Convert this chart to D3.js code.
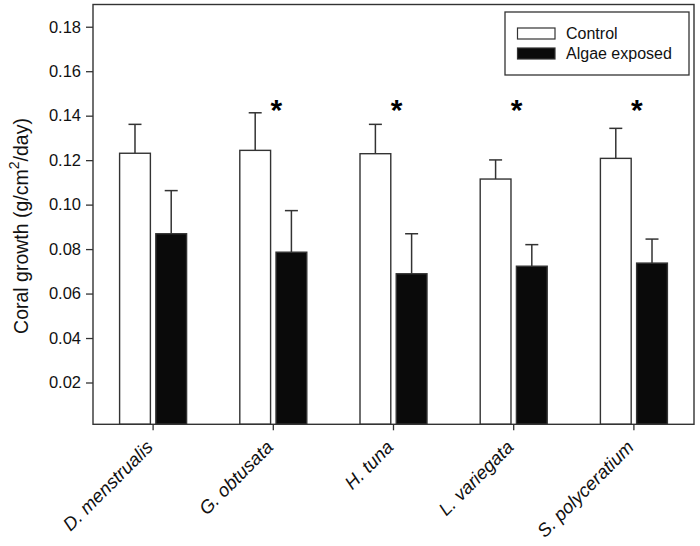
<!DOCTYPE html>
<html>
<head>
<meta charset="utf-8">
<script src="https://cdn.jsdelivr.net/npm/d3@7"></script>
<style>
  html, body { margin: 0; padding: 0; background: #fff; }
  svg { display: block; font-family: "Liberation Sans", Arial, sans-serif; }
</style>
</head>
<body>
<svg id="chart" width="700" height="546"></svg>
<script>
// ---- data ----
const categories = ["D. menstrualis", "G. obtusata", "H. tuna", "L. variegata", "S. polyceratium"];
const seriesNames = ["Control", "Algae exposed"];
const controlMean = [0.1231, 0.1244, 0.1229, 0.1115, 0.1208];
const controlErr  = [0.0130, 0.0169, 0.0132, 0.0086, 0.0135];
const algaeMean   = [0.0869, 0.0786, 0.0689, 0.0723, 0.0737];
const algaeErr    = [0.0194, 0.0187, 0.0180, 0.0097, 0.0108];
const significant = [false, true, true, true, true];
const starLevel = 0.1457;
const yTicks = [0.02, 0.04, 0.06, 0.08, 0.10, 0.12, 0.14, 0.16, 0.18];
const yDomain = [0.0012, 0.19];

// ---- layout ----
const L = 93, R = 694, T = 4.5, B = 424.3;
const stroke = "#333";
const svg = d3.select("#chart");

const x0 = d3.scaleBand().domain(categories).range([L, R]).padding(0);
const x1 = d3.scaleBand().domain(seriesNames).range([-33.5, 33.5]).paddingInner(0.15);
const y = d3.scaleLinear().domain(yDomain).range([B, T]);
const fills = { "Control": "#ffffff", "Algae exposed": "#0a0a0a" };

const rows = [];
categories.forEach((c, i) => {
  rows.push({ cat: c, s: "Control", m: controlMean[i], e: controlErr[i] });
  rows.push({ cat: c, s: "Algae exposed", m: algaeMean[i], e: algaeErr[i] });
});

// error bars (behind bars)
const eb = svg.append("g").attr("stroke", stroke).attr("stroke-width", 1.5);
rows.forEach(d => {
  const cx = x0(d.cat) + x0.bandwidth() / 2 + x1(d.s) + x1.bandwidth() / 2;
  eb.append("line").attr("x1", cx).attr("x2", cx).attr("y1", y(d.m)).attr("y2", y(d.m + d.e));
  eb.append("line").attr("x1", cx - 6.5).attr("x2", cx + 6.5).attr("y1", y(d.m + d.e)).attr("y2", y(d.m + d.e));
});

// bars
svg.append("g").selectAll("rect").data(rows).join("rect")
  .attr("x", d => x0(d.cat) + x0.bandwidth() / 2 + x1(d.s))
  .attr("width", x1.bandwidth())
  .attr("y", d => y(d.m))
  .attr("height", d => B - y(d.m))
  .attr("fill", d => fills[d.s])
  .attr("stroke", stroke).attr("stroke-width", 1.4);

// stars
svg.append("g").selectAll("text").data(categories.filter((c, i) => significant[i])).join("text")
  .attr("x", c => x0(c) + x0.bandwidth() / 2 + 3)
  .attr("y", y(starLevel) + 17)
  .attr("text-anchor", "middle")
  .attr("font-size", 30).attr("font-weight", "bold")
  .attr("fill", "#000")
  .text("*");

// frame
svg.append("rect").attr("x", L).attr("y", T).attr("width", R - L).attr("height", B - T)
  .attr("fill", "none").attr("stroke", stroke).attr("stroke-width", 1.4);

// y axis
const yAxis = svg.append("g").attr("transform", `translate(${L},0)`)
  .call(d3.axisLeft(y).tickValues(yTicks).tickFormat(d3.format(".2f")).tickSize(7).tickPadding(5).tickSizeOuter(0));
yAxis.select(".domain").remove();
yAxis.selectAll("line").attr("stroke", stroke).attr("stroke-width", 1.3);
yAxis.selectAll("text").attr("font-size", 16.5).attr("fill", "#111").attr("font-family", "Liberation Sans, Arial, sans-serif");

// x axis
const xAxis = svg.append("g").attr("transform", `translate(0,${B})`)
  .call(d3.axisBottom(x0).tickSize(6).tickSizeOuter(0));
xAxis.select(".domain").remove();
xAxis.selectAll("line").attr("stroke", stroke).attr("stroke-width", 1.3);
xAxis.selectAll("text")
  .attr("font-size", 18.5).attr("font-style", "italic").attr("fill", "#111")
  .attr("font-family", "Liberation Sans, Arial, sans-serif")
  .attr("text-anchor", "end")
  .attr("dy", 0)
  .attr("y", 0)
  .attr("transform", "translate(1,24) rotate(-45)");

// y title
const yt = svg.append("text")
  .attr("transform", `translate(28,226) rotate(-90)`)
  .attr("text-anchor", "middle")
  .attr("font-size", 19.5).attr("fill", "#111");
yt.append("tspan").text("Coral growth (g/cm");
yt.append("tspan").attr("font-size", 14).attr("dy", -9).text("2");
yt.append("tspan").attr("dy", 9).text("/day)");

// legend
const lg = svg.append("g");
lg.append("rect").attr("x", 505).attr("y", 12).attr("width", 184).attr("height", 63)
  .attr("fill", "#fff").attr("stroke", stroke).attr("stroke-width", 1.3);
seriesNames.forEach((s, i) => {
  lg.append("rect").attr("x", 517.5).attr("y", 28 + i * 20).attr("width", 37.5).attr("height", 11)
    .attr("fill", fills[s]).attr("stroke", stroke).attr("stroke-width", 1.2);
  lg.append("text").attr("x", 566).attr("y", 38.5 + i * 20.5).attr("font-size", 16).attr("fill", "#111").text(s);
});
</script>
</body>
</html>
